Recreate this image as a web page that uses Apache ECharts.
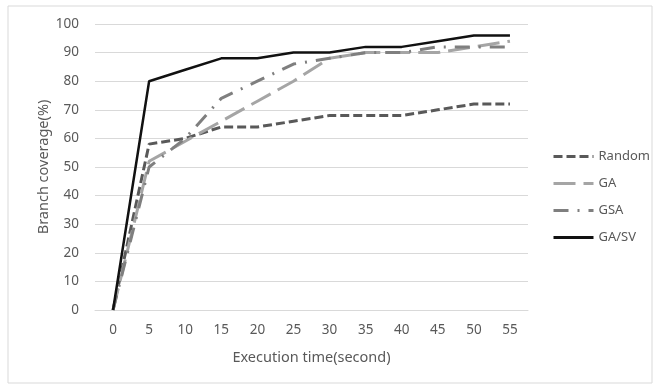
<!DOCTYPE html>
<html>
<head>
<meta charset="utf-8">
<script src="https://cdn.jsdelivr.net/npm/echarts@6/dist/echarts.min.js"></script>
<style>
    html,body{margin:0;padding:0;background:#fff;}
    #chart{width:661px;height:385px;}
</style>
</head>
<body>
<div id="chart"></div>
<script>
//横轴时间
var times = ['0','5','10','15','20','25','30','35','40','45','50','55'];
//各算法覆盖率
var randomData = [0, 58, 60, 64, 64, 66, 68, 68, 68, 70, 72, 72];
var gaData     = [0, 52, 59, 66, 73, 80, 88, 90, 90, 90, 92, 94];
var gsaData    = [0, 50, 60, 74, 80, 86, 88, 90, 90, 92, 92, 92];
var gasvData   = [0, 80, 84, 88, 88, 90, 90, 92, 92, 94, 96, 96];
var yTicks = {min: 0, max: 100, interval: 10};

var myChart = echarts.init(document.getElementById('chart'));
var fontName = 'Noto Sans';
var option = {
    animation: false,
    textStyle: {fontFamily: fontName},
    graphic: [{
        type: 'rect',
        shape: {x: 8, y: 6, width: 644, height: 377},
        style: {fill: 'none', stroke: '#d9d9d9', lineWidth: 1},
        silent: true
    }],
    grid: {left: 95, right: 133, top: 24, bottom: 75},
    legend: {
        orient: 'vertical',
        left: 552,
        top: 150,
        padding: 0,
        itemWidth: 40,
        itemHeight: 14,
        itemGap: 14,
        itemStyle: {opacity: 0},
        lineStyle: {width: 3},
        textStyle: {color: '#595959', fontSize: 13, fontFamily: fontName},
        data: ['Random', 'GA', 'GSA', 'GA/SV']
    },
    xAxis: {
        type: 'category',
        data: times,
        boundaryGap: true,
        name: 'Execution time(second)',
        nameLocation: 'middle',
        nameGap: 40,
        nameTextStyle: {color: '#595959', fontSize: 14.5},
        axisLine: {lineStyle: {color: '#d9d9d9'}},
        axisTick: {show: false},
        axisLabel: {color: '#595959', fontSize: 13.5, margin: 13}
    },
    yAxis: {
        type: 'value',
        min: yTicks.min,
        max: yTicks.max,
        interval: yTicks.interval,
        name: 'Branch coverage(%)',
        nameLocation: 'middle',
        nameGap: 44,
        nameMoveOverlap: false,
        nameTextStyle: {color: '#595959', fontSize: 14.5},
        axisLine: {show: false},
        axisTick: {show: false},
        axisLabel: {color: '#595959', fontSize: 13.5, margin: 16},
        splitLine: {lineStyle: {color: '#d9d9d9', width: 1}}
    },
    series: [
        {
            name: 'Random',
            type: 'line',
            data: randomData,
            symbol: 'none',
            color: '#595959',
            lineStyle: {color: '#595959', width: 3, type: [9, 4]}
        },
        {
            name: 'GA',
            type: 'line',
            data: gaData,
            symbol: 'none',
            color: '#a5a5a5',
            lineStyle: {color: '#a5a5a5', width: 3, type: [22, 8]}
        },
        {
            name: 'GSA',
            type: 'line',
            data: gsaData,
            symbol: 'none',
            color: '#7f7f7f',
            lineStyle: {color: '#7f7f7f', width: 3, type: [15, 9, 2, 9]}
        },
        {
            name: 'GA/SV',
            type: 'line',
            data: gasvData,
            symbol: 'none',
            color: '#111111',
            lineStyle: {color: '#111111', width: 2.5}
        }
    ]
};
myChart.setOption(option);
</script>
</body>
</html>
